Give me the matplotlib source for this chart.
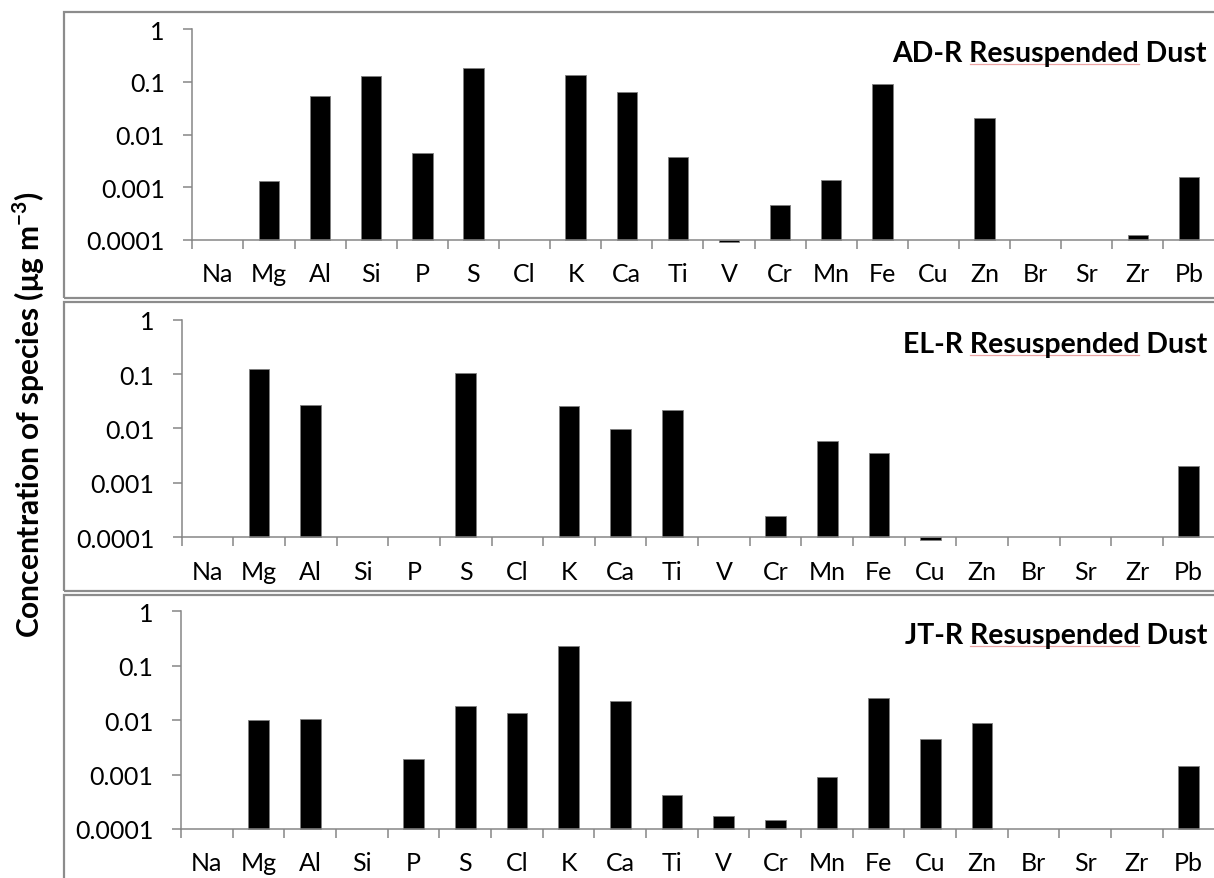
import numpy as np
import matplotlib
matplotlib.use("Agg")
import matplotlib.pyplot as plt
from matplotlib.patches import Rectangle
from matplotlib.lines import Line2D
from matplotlib.ticker import FixedLocator, NullFormatter

plt.rcParams["font.family"] = ["Lato", "DejaVu Sans"]
plt.rcParams["mathtext.fontset"] = "custom"
plt.rcParams["mathtext.rm"] = "Lato"
plt.rcParams["mathtext.bf"] = "Lato:bold"

nan = np.nan
elements = ["Na", "Mg", "Al", "Si", "P", "S", "Cl", "K", "Ca", "Ti",
            "V", "Cr", "Mn", "Fe", "Cu", "Zn", "Br", "Sr", "Zr", "Pb"]

ad_r = [nan, 0.0013, 0.053, 0.13, 0.0045, 0.18, nan, 0.134, 0.063, 0.0038,
        0.00009, 0.00046, 0.0014, 0.091, nan, 0.0205, nan, nan, 0.000126, 0.00156]
el_r = [nan, 0.125, 0.027, nan, nan, 0.105, nan, 0.026, 0.0098, 0.022,
        nan, 0.000245, 0.0058, 0.0035, 0.00009, nan, nan, nan, nan, 0.00204]
jt_r = [nan, 0.0102, 0.0104, nan, 0.0019, 0.018, 0.0138, 0.23, 0.0226, 0.00042,
        0.000174, 0.000148, 0.00089, 0.026, 0.0045, 0.0088, nan, nan, nan, 0.00146]

sites = ["AD-R", "EL-R", "JT-R"]
yticks = [0.0001, 0.001, 0.01, 0.1, 1]
ytick_labels = ["0.0001", "0.001", "0.01", "0.1", "1"]
base = 0.0001

W, H = 1214, 879
fig = plt.figure(figsize=(W / 100, H / 100), dpi=100)
renderer = fig.canvas.get_renderer()

gray = "#868686"
TITLE_FS = 20.5
# (box top, box bottom, axes left, axes top, axes bottom) in pixels
layout = [
    (12.7, 299.3, 192.3, 30.0, 241.0),
    (302.7, 591.7, 181.7, 320.7, 538.3),
    (596.0, 900.0, 181.0, 612.3, 830.0),
]


def text_width(s):
    t = fig.text(0, 0, s, fontsize=TITLE_FS, fontweight="bold")
    w = t.get_window_extent(renderer).width
    t.remove()
    return w


for data, site, (btop, bbot, left, top, bottom) in zip([ad_r, el_r, jt_r], sites, layout):
    fig.add_artist(Rectangle((64 / W, 1 - bbot / H), (1230 - 64) / W, (bbot - btop) / H,
                             transform=fig.transFigure, fill=False,
                             ec="#8c8c8c", lw=1.6))
    right = 1214.5
    ax = fig.add_axes([left / W, 1 - bottom / H, (right - left) / W, (bottom - top) / H])
    x = np.arange(len(elements))
    vals = np.array(data, dtype=float)
    ax.bar(x, vals - base, bottom=base, width=0.4, color="black",
           edgecolor="#7f7f7f", linewidth=0.6, clip_on=False)
    ax.set_yscale("log")
    ax.set_ylim(base, 1)
    ax.set_xlim(-0.5, len(elements) - 0.5)

    ax.yaxis.set_major_locator(FixedLocator(yticks))
    ax.set_yticklabels(ytick_labels)
    ax.yaxis.set_minor_locator(FixedLocator([]))
    ax.tick_params(axis="y", which="major", length=6.3, width=1.1, color=gray,
                   labelsize=18, pad=13.5)

    ax.set_xticks(x)
    ax.set_xticklabels(elements)
    ax.xaxis.set_minor_locator(FixedLocator(np.arange(-0.5, len(elements) - 0.5, 1.0)))
    ax.xaxis.set_minor_formatter(NullFormatter())
    ax.tick_params(axis="x", which="major", length=0, labelsize=18, pad=16)
    ax.tick_params(axis="x", which="minor", length=6.5, width=1.1, color=gray)

    for side in ["top", "right"]:
        ax.spines[side].set_visible(False)
    for side in ["left", "bottom"]:
        ax.spines[side].set_color(gray)
        ax.spines[side].set_linewidth(1.1)

    title = site + " Resuspended Dust"
    ty = top + 24
    fig.text(1207 / W, 1 - ty / H, title, ha="right", va="center",
             fontsize=TITLE_FS, fontweight="bold")
    # faint spell-check underline below "Resuspended"
    x0 = 1207 - text_width("Resuspended Dust")
    x1 = x0 + text_width("Resuspended")
    uy = ty + 11
    fig.add_artist(Line2D([x0 / W, x1 / W], [1 - uy / H, 1 - uy / H],
                          transform=fig.transFigure, color="#eba3a3", lw=0.9))

fig.text(29 / W, 1 - 415 / H, r"Concentration of species (μg m$^{\mathbf{-3}}$)",
         rotation=90, ha="center", va="center", fontsize=21.5, fontweight="bold")

plt.savefig("out.png", dpi=100)
